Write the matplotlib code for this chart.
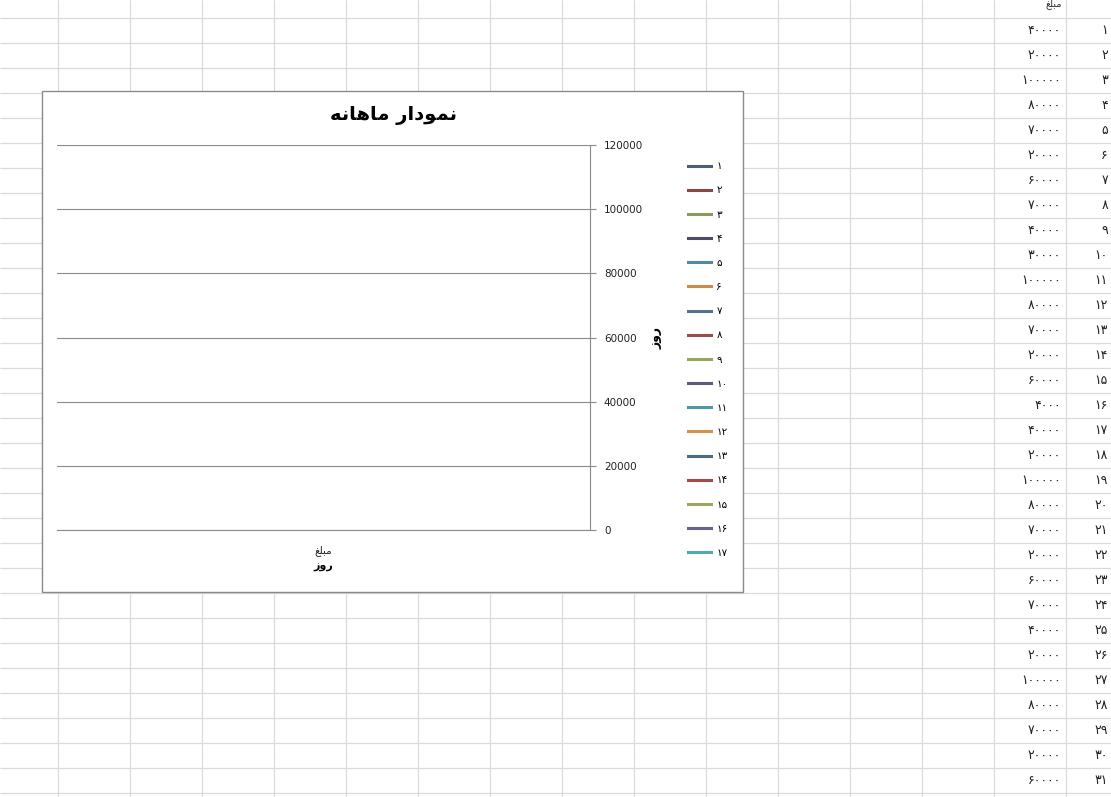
import numpy as np
import matplotlib
matplotlib.use("Agg")
import matplotlib.pyplot as plt
from matplotlib.patches import Rectangle

# ---------------- data ----------------
# Persian text, pre-shaped (presentation forms, visual order)
title_text = "\ufeea\ufee7\ufe8e\ufeeb\ufe8e\ufee3 \ufead\ufe8d\ufea9\ufeee\ufee4\ufee7"   # نمودار ماهانه
axis_title = "\ufeaf\ufeed\ufead"                                                       # روز
categories = ["\ufece\ufee0\ufe92\ufee3"]                                               # مبلغ
column_header = "\ufece\ufee0\ufe92\ufee3"                                              # مبلغ

days = list(range(1, 32))
amounts = [40000, 20000, 100000, 80000, 70000, 20000, 60000, 70000, 40000, 30000,
           100000, 80000, 70000, 20000, 60000, 4000, 40000, 20000, 100000, 80000,
           70000, 20000, 60000, 70000, 40000, 20000, 100000, 80000, 70000, 20000, 60000]

series_numbers = list(range(1, 18))
series_values = [None] * 17          # the chart shows no plotted points
series_colors = ["#4A6074", "#8C4646", "#8A9B58", "#4F4D66", "#4C8A9C", "#CC8B4E",
                 "#56708F", "#9E4B4B", "#93A65A", "#605A7E", "#4C98A8", "#D6914F",
                 "#4A6C88", "#A84848", "#9AAA5C", "#686090", "#4DA8B8"]
y_ticks = [0, 20000, 40000, 60000, 80000, 100000, 120000]


def fa(n):
    return "".join(chr(0x06F0 + int(c)) for c in str(n))


W, H = 1111, 797
fig = plt.figure(figsize=(W / 100, H / 100), dpi=100)
plt.rcParams["font.family"] = ["DejaVu Sans"]

# ---------------- spreadsheet background ----------------
bg = fig.add_axes([0, 0, 1, 1])
bg.set_xlim(0, W)
bg.set_ylim(H, 0)
bg.axis("off")
grid_c = "#D9D9DE"
for x in range(58, W, 72):
    bg.vlines(x, 0, H, color=grid_c, lw=0.9, zorder=1)
for y in range(18, H, 25):
    bg.hlines(y, 0, W, color=grid_c, lw=0.9, zorder=1)

bg.text(1062, 4, column_header, ha="right", va="center", fontsize=7, color="#333333")
for d, a in zip(days, amounts):
    yc = 30.5 + 25 * (d - 1)
    bg.text(1061, yc, fa(a), ha="right", va="center", fontsize=9, color="#222222")
    bg.text(1108, yc, fa(d), ha="right", va="center", fontsize=9, color="#222222")

# chart frame
bg.add_patch(Rectangle((42, 91), 701, 501, facecolor="white", edgecolor="#8A8A8A",
                       lw=1.0, zorder=5))
bg.text(393, 115, title_text, ha="center", va="center", fontsize=14,
        fontweight="bold", color="black", zorder=6)
bg.text(656, 338, axis_title, ha="center", va="center", fontsize=9,
        fontweight="bold", rotation=90, color="black", zorder=6)

# ---------------- chart plot area ----------------
x0, x1, y0, y1 = 57, 590, 145, 530
ax = fig.add_axes([x0 / W, 1 - y1 / H, (x1 - x0) / W, (y1 - y0) / H], zorder=10)
ax.patch.set_alpha(0)
ax.set_xlim(0, 1)
ax.set_ylim(0, 120000)
ax.set_yticks(y_ticks)
ax.set_yticklabels([str(v) for v in y_ticks])
ax.yaxis.tick_right()
ax.grid(axis="y", color="#8A8A8A", lw=0.8)
ax.set_axisbelow(True)
for s in ["left", "top"]:
    ax.spines[s].set_visible(False)
for s in ["right", "bottom"]:
    ax.spines[s].set_color("#8A8A8A")
    ax.spines[s].set_linewidth(0.8)
ax.tick_params(axis="y", direction="out", length=4, width=0.8, color="#8A8A8A",
               labelsize=7.5, labelcolor="#222222", pad=6)
ax.set_xticks([0.5])
ax.set_xticklabels(categories)
ax.tick_params(axis="x", length=0, labelsize=7.5, labelcolor="#222222", pad=11)
ax.set_xlabel(axis_title, fontsize=8, fontweight="bold", labelpad=4)

handles = []
for n, v, c in zip(series_numbers, series_values, series_colors):
    yv = np.nan if v is None else v
    ln, = ax.plot([0.5], [yv], color=c, lw=2.2, label=fa(n))
    handles.append(ln)

leg = ax.legend(handles=handles, loc="upper left", bbox_to_anchor=(683 / W, 1 - 156 / H),
                bbox_transform=fig.transFigure, frameon=False, fontsize=7.5,
                handlelength=2.2, handletextpad=0.5, labelspacing=1.36, borderpad=0)

fig.savefig("out.png", dpi=100)
